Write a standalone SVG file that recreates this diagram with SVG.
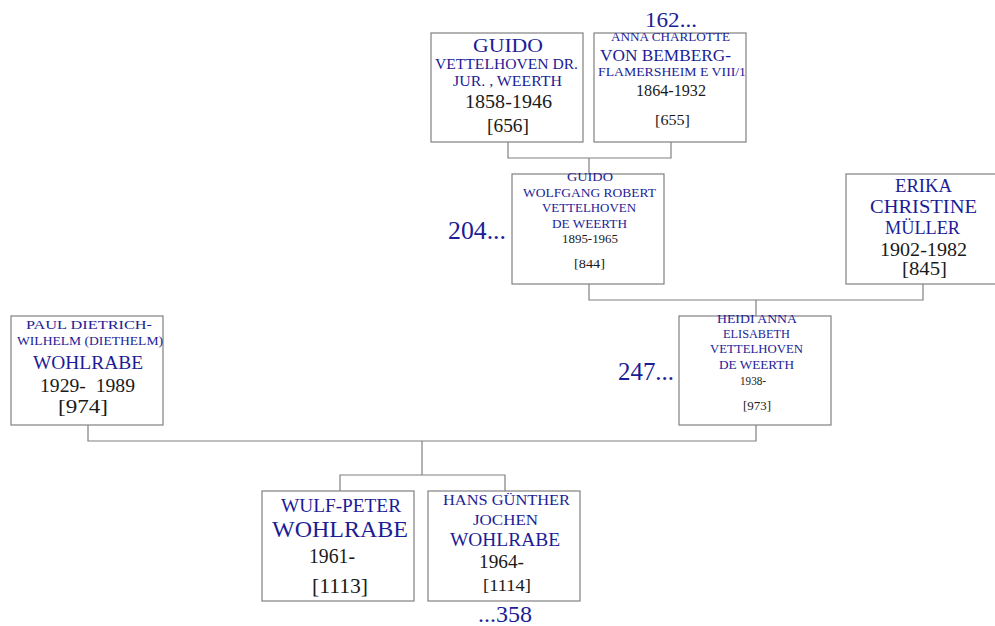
<svg xmlns="http://www.w3.org/2000/svg" width="995" height="626" viewBox="0 0 995 626">
<style>
.box{fill:#fff;stroke:#808080;stroke-width:1.2}
.n{font-family:"Liberation Serif","DejaVu Serif",serif;fill:#1c1c96;text-anchor:middle}
.d{font-family:"Liberation Serif","DejaVu Serif",serif;fill:#1a1a1a;text-anchor:middle}
.ref{font-family:"Liberation Serif","DejaVu Serif",serif;fill:#1c1c96;text-anchor:middle}
.conn{fill:none;stroke:#808080;stroke-width:1.2}
</style>
<rect width="995" height="626" fill="#fff"/>
<g id="connectors">
<path class="conn" d="M508,142 V158 H671 V142 M589,158 V174"/>
<path class="conn" d="M589,284 V300 H923 V284 M756,300 V316"/>
<path class="conn" d="M88,425 V441 H756 V425 M422,441 V475 M340,491 V475 H505 V491"/>
</g>
<g id="n656">
<rect class="box" x="431" y="33" width="152" height="109"/>
<text class="n" x="508" y="52" font-size="19" textLength="70" lengthAdjust="spacingAndGlyphs">GUIDO</text>
<text class="n" x="506.5" y="69" font-size="14" textLength="143" lengthAdjust="spacingAndGlyphs">VETTELHOVEN DR.</text>
<text class="n" x="507.5" y="86" font-size="14" textLength="109" lengthAdjust="spacingAndGlyphs">JUR. , WEERTH</text>
<text class="d" x="508.5" y="108" font-size="19" textLength="87" lengthAdjust="spacingAndGlyphs">1858-1946</text>
<text class="d" x="508" y="132" font-size="19" textLength="42" lengthAdjust="spacingAndGlyphs">[656]</text>
</g>
<g id="n655">
<rect class="box" x="594" y="33" width="152" height="109"/>
<text class="ref" x="671" y="27" font-size="22" textLength="52" lengthAdjust="spacingAndGlyphs">162...</text>
<text class="n" x="670.5" y="41" font-size="12" textLength="119" lengthAdjust="spacingAndGlyphs">ANNA CHARLOTTE</text>
<text class="n" x="665.5" y="61" font-size="17" textLength="131" lengthAdjust="spacingAndGlyphs">VON BEMBERG-</text>
<text class="n" x="672" y="76" font-size="12.5" textLength="148" lengthAdjust="spacingAndGlyphs">FLAMERSHEIM E VIII/1</text>
<text class="d" x="671" y="96" font-size="16" textLength="70" lengthAdjust="spacingAndGlyphs">1864-1932</text>
<text class="d" x="672.5" y="125" font-size="15" textLength="35" lengthAdjust="spacingAndGlyphs">[655]</text>
</g>
<g id="n844">
<rect class="box" x="512" y="174" width="152" height="110"/>
<text class="ref" x="477" y="239" font-size="25" textLength="58" lengthAdjust="spacingAndGlyphs">204...</text>
<text class="n" x="590" y="181" font-size="11.5" textLength="46" lengthAdjust="spacingAndGlyphs">GUIDO</text>
<text class="n" x="589.5" y="197" font-size="11.5" textLength="133" lengthAdjust="spacingAndGlyphs">WOLFGANG ROBERT</text>
<text class="n" x="589" y="212" font-size="11.5" textLength="94" lengthAdjust="spacingAndGlyphs">VETTELHOVEN</text>
<text class="n" x="589.5" y="228" font-size="11.5" textLength="75" lengthAdjust="spacingAndGlyphs">DE WEERTH</text>
<text class="d" x="590" y="243" font-size="12.5" textLength="56" lengthAdjust="spacingAndGlyphs">1895-1965</text>
<text class="d" x="589.5" y="268" font-size="12" textLength="31" lengthAdjust="spacingAndGlyphs">[844]</text>
</g>
<g id="n845">
<rect class="box" x="846" y="174" width="152" height="110"/>
<text class="n" x="923.5" y="192" font-size="19" textLength="57" lengthAdjust="spacingAndGlyphs">ERIKA</text>
<text class="n" x="923.5" y="213" font-size="19" textLength="107" lengthAdjust="spacingAndGlyphs">CHRISTINE</text>
<text class="n" x="922.5" y="234" font-size="19" textLength="75" lengthAdjust="spacingAndGlyphs">MÜLLER</text>
<text class="d" x="923.5" y="256" font-size="18" textLength="87" lengthAdjust="spacingAndGlyphs">1902-1982</text>
<text class="d" x="924.5" y="275" font-size="18" textLength="45" lengthAdjust="spacingAndGlyphs">[845]</text>
</g>
<g id="n973">
<rect class="box" x="679" y="316" width="152" height="109"/>
<text class="ref" x="646" y="380" font-size="25" textLength="56" lengthAdjust="spacingAndGlyphs">247...</text>
<text class="n" x="757" y="323" font-size="11.5" textLength="80" lengthAdjust="spacingAndGlyphs">HEIDI ANNA</text>
<text class="n" x="756.5" y="338" font-size="11.5" textLength="67" lengthAdjust="spacingAndGlyphs">ELISABETH</text>
<text class="n" x="756.5" y="353" font-size="11.5" textLength="93" lengthAdjust="spacingAndGlyphs">VETTELHOVEN</text>
<text class="n" x="756.5" y="369" font-size="11.5" textLength="75" lengthAdjust="spacingAndGlyphs">DE WEERTH</text>
<text class="d" x="753" y="385" font-size="12.5" textLength="26" lengthAdjust="spacingAndGlyphs">1938-</text>
<text class="d" x="757" y="410" font-size="12" textLength="28" lengthAdjust="spacingAndGlyphs">[973]</text>
</g>
<g id="n974">
<rect class="box" x="11" y="316" width="152" height="109"/>
<text class="n" x="89" y="329" font-size="13.5" textLength="126" lengthAdjust="spacingAndGlyphs">PAUL DIETRICH-</text>
<text class="n" x="90" y="345" font-size="12.5" textLength="146" lengthAdjust="spacingAndGlyphs">WILHELM (DIETHELM)</text>
<text class="n" x="88" y="369" font-size="19" textLength="110" lengthAdjust="spacingAndGlyphs">WOHLRABE</text>
<text class="d" x="87.5" y="392" font-size="19" textLength="95" lengthAdjust="spacingAndGlyphs" xml:space="preserve">1929-  1989</text>
<text class="d" x="83" y="413" font-size="19" textLength="50" lengthAdjust="spacingAndGlyphs">[974]</text>
</g>
<g id="n1113">
<rect class="box" x="262" y="491" width="152" height="110"/>
<text class="n" x="341" y="512" font-size="18" textLength="120" lengthAdjust="spacingAndGlyphs">WULF-PETER</text>
<text class="n" x="340" y="537" font-size="24" textLength="136" lengthAdjust="spacingAndGlyphs">WOHLRABE</text>
<text class="d" x="332" y="563" font-size="22" textLength="46" lengthAdjust="spacingAndGlyphs">1961-</text>
<text class="d" x="340" y="593" font-size="22" textLength="56" lengthAdjust="spacingAndGlyphs">[1113]</text>
</g>
<g id="n1114">
<rect class="box" x="428" y="491" width="152" height="110"/>
<text class="n" x="506.5" y="505" font-size="15" textLength="127" lengthAdjust="spacingAndGlyphs">HANS GÜNTHER</text>
<text class="n" x="505.5" y="525" font-size="15" textLength="65" lengthAdjust="spacingAndGlyphs">JOCHEN</text>
<text class="n" x="505" y="546" font-size="19" textLength="110" lengthAdjust="spacingAndGlyphs">WOHLRABE</text>
<text class="d" x="501.5" y="568" font-size="18" textLength="45" lengthAdjust="spacingAndGlyphs">1964-</text>
<text class="d" x="507" y="591" font-size="17" textLength="48" lengthAdjust="spacingAndGlyphs">[1114]</text>
<text class="ref" x="505" y="622" font-size="23" textLength="54" lengthAdjust="spacingAndGlyphs">...358</text>
</g>
</svg>
